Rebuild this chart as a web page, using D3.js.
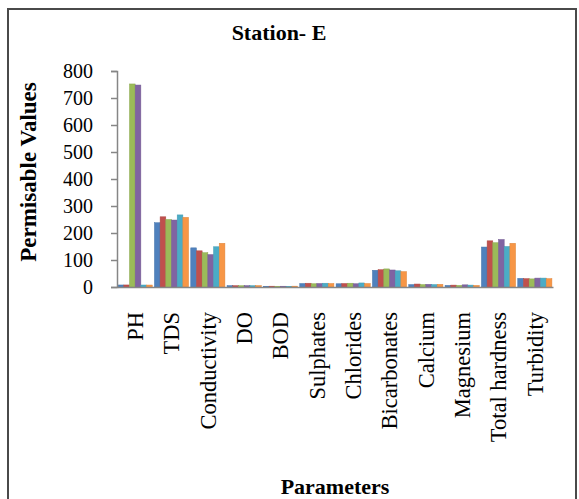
<!DOCTYPE html>
<html>
<head>
<meta charset="utf-8">
<script src="https://cdn.jsdelivr.net/npm/d3@7"></script>
<style>
  html, body { margin: 0; padding: 0; background: #fff; }
  svg { display: block; }
</style>
</head>
<body>
<svg id="chart" width="579" height="499"></svg>
<script>
// Water-quality parameters measured at Station E (six samples per parameter)
const categories = ["PH", "TDS", "Conductivity", "DO", "BOD", "Sulphates",
  "Chlorides", "Bicarbonates", "Calcium", "Magnesium", "Total hardness", "Turbidity"];

// One array per sample, in category order
const sample1 = [7.5, 238, 145, 5.2, 2.8, 13, 12, 62, 9, 6, 148, 32];
const sample2 = [7.6, 260, 134, 5.0, 3.0, 14, 13, 64, 11, 7, 171, 31];
const sample3 = [752, 250, 127, 4.8, 2.6, 12, 14, 67, 9, 6, 164, 30];
const sample4 = [748, 248, 120, 5.1, 2.9, 13, 12, 63, 10, 8, 176, 33];
const sample5 = [7.4, 267, 149, 4.9, 2.7, 14, 15, 60, 9, 7, 150, 33];
const sample6 = [7.3, 258, 162, 5.3, 3.1, 13, 13, 57, 10, 6, 162, 31];

const series = [sample1, sample2, sample3, sample4, sample5, sample6];
const seriesColors = ["#4F81BD", "#C0504D", "#9BBB59", "#8064A2", "#4BACC6", "#F79646"];

const yTicks = [0, 100, 200, 300, 400, 500, 600, 700, 800];

const FONT = "'Liberation Serif', 'Times New Roman', serif";

const svg = d3.select("#chart");

// Outer frame
svg.append("rect")
  .attr("x", 8).attr("y", 9)
  .attr("width", 568).attr("height", 500)
  .attr("fill", "none")
  .attr("stroke", "#4a4a4a")
  .attr("stroke-width", 2);

const plot = { left: 117, right: 553, top: 71, bottom: 287 };

const x0 = d3.scaleBand()
  .domain(d3.range(categories.length))
  .range([plot.left, plot.right])
  .paddingInner(0.06)
  .paddingOuter(0.03);

const x1 = d3.scaleBand()
  .domain(d3.range(series.length))
  .range([0, x0.bandwidth()])
  .padding(0);

const y = d3.scaleLinear()
  .domain([0, 800])
  .range([plot.bottom, plot.top]);

// Bars, one cluster per parameter
const groups = svg.append("g")
  .selectAll("g")
  .data(categories.map((c, i) => ({ c, i })))
  .join("g")
  .attr("transform", d => `translate(${x0(d.i)},0)`);

groups.selectAll("rect")
  .data(d => series.map((s, k) => ({ k, v: s[d.i] })))
  .join("rect")
  .attr("x", d => x1(d.k))
  .attr("y", d => y(d.v))
  .attr("width", x1.bandwidth())
  .attr("height", d => y(0) - y(d.v))
  .attr("fill", d => seriesColors[d.k])
  .attr("stroke", d => d3.color(seriesColors[d.k]).darker(0.3))
  .attr("stroke-width", 0.5);

// Y axis
const yAxis = svg.append("g")
  .attr("transform", `translate(${plot.left},0)`)
  .call(d3.axisLeft(y).tickValues(yTicks).tickSize(6).tickPadding(18).tickFormat(d3.format("d")));
yAxis.attr("font-family", FONT);
yAxis.select(".domain").attr("stroke", "#868686").attr("stroke-width", 1.5);
yAxis.selectAll(".tick line").attr("stroke", "#868686").attr("stroke-width", 1.5);
yAxis.selectAll(".tick text")
  .attr("font-size", 20)
  .attr("font-family", FONT)
  .attr("fill", "#000");

// X axis baseline
const xAxis = svg.append("g")
  .attr("transform", `translate(0,${plot.bottom})`)
  .call(d3.axisBottom(x0).tickSize(0).tickFormat(""));
xAxis.select(".domain").attr("stroke", "#868686").attr("stroke-width", 1.5);

// Category labels, rotated
svg.append("g")
  .selectAll("text")
  .data(categories)
  .join("text")
  .attr("transform", (d, i) => `translate(${x0(i) + x0.bandwidth() / 2},${plot.bottom + 25}) rotate(-90)`)
  .attr("dy", "0.35em")
  .attr("text-anchor", "end")
  .attr("font-family", FONT)
  .attr("font-size", 22.5)
  .attr("fill", "#000")
  .text(d => d);

// Chart title
svg.append("text")
  .attr("x", 279).attr("y", 40)
  .attr("text-anchor", "middle")
  .attr("font-family", FONT)
  .attr("font-size", 22)
  .attr("font-weight", "bold")
  .attr("fill", "#000")
  .text("Station- E");

// Axis titles
svg.append("text")
  .attr("transform", `translate(28,${(plot.top + plot.bottom) / 2 - 7}) rotate(-90)`)
  .attr("dy", "0.35em")
  .attr("text-anchor", "middle")
  .attr("font-family", FONT)
  .attr("font-size", 23)
  .attr("font-weight", "bold")
  .attr("fill", "#000")
  .text("Permisable Values");

svg.append("text")
  .attr("x", (plot.left + plot.right) / 2)
  .attr("y", 494)
  .attr("text-anchor", "middle")
  .attr("font-family", FONT)
  .attr("font-size", 22)
  .attr("font-weight", "bold")
  .attr("fill", "#000")
  .text("Parameters");
</script>
</body>
</html>
